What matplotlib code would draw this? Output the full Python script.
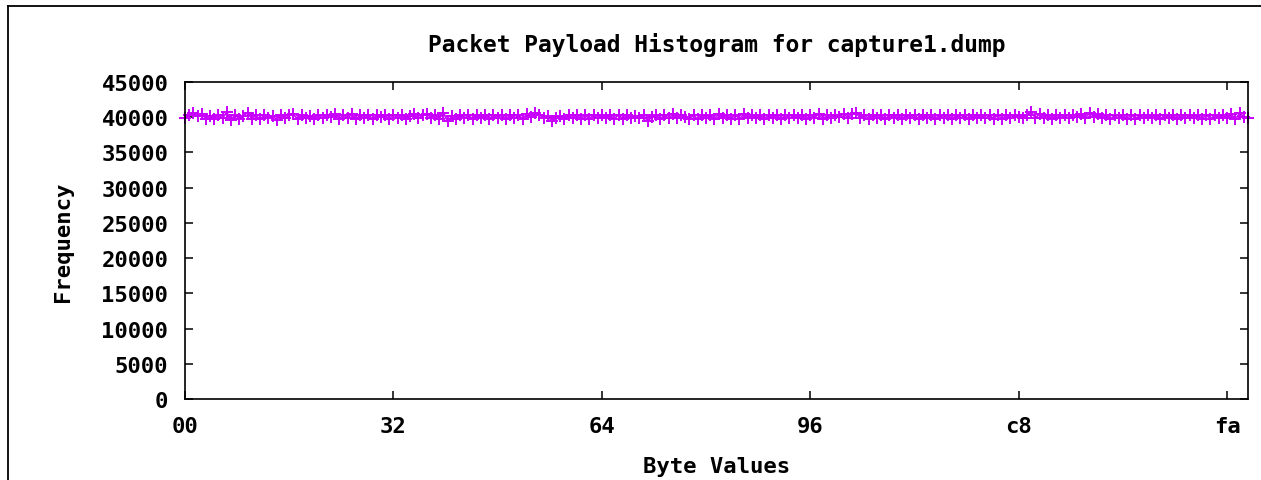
import matplotlib
matplotlib.use("Agg")
import matplotlib.pyplot as plt
from matplotlib.lines import Line2D

title = "Packet Payload Histogram for capture1.dump"
xlabel = "Byte Values"
ylabel = "Frequency"

xtick_pos = [0, 50, 100, 150, 200, 250]
xtick_lbl = ["00", "32", "64", "96", "c8", "fa"]
ytick_pos = [0, 5000, 10000, 15000, 20000, 25000, 30000, 35000, 40000, 45000]

freq = [
    39950, 40350, 40600, 40150, 40450, 39800, 40200, 39700, 40300, 39900, 40700, 39600, 40350, 39750, 40200, 40650,
    39800, 40250, 39700, 40300, 39900, 40200, 39650, 40350, 39850, 40250, 40400, 39750, 40300, 39900, 40200, 39700,
    40300, 39850, 40350, 40050, 40400, 39800, 40300, 39900, 40450, 39750, 40250, 39850, 40350, 39700, 40300, 40000,
    40250, 39800, 40350, 39900, 40300, 39750, 40200, 40450, 39850, 40300, 40500, 39900, 40350, 39800, 40650, 39400,
    40150, 39700, 40300, 39850, 40250, 39750, 40350, 39900, 40300, 39800, 40250, 39950, 40350, 39750, 40300, 39850,
    40250, 39800, 40400, 40100, 40650, 40350, 39900, 40200, 39450, 39900, 40150, 39750, 40300, 39850, 40350, 39800,
    40300, 39750, 40350, 39850, 40300, 39900, 40250, 39800, 40350, 39750, 40300, 39900, 40200, 39850, 40250, 39500,
    40050, 40350, 39750, 40300, 39850, 40400, 39900, 40250, 40100, 39800, 40250, 39700, 40350, 39850, 40300, 39750,
    40450, 39900, 40300, 39800, 40350, 39750, 40400, 39850, 40300, 39900, 40250, 39800, 40350, 39850, 40300, 39750,
    40300, 39850, 40250, 39900, 40350, 39800, 40300, 39950, 40450, 39700, 40250, 39850, 40350, 40050, 40500, 39950,
    40400, 40650, 39900, 40350, 39800, 40300, 39850, 40250, 39750, 40300, 39900, 40350, 39800, 40250, 39900, 40300,
    39750, 40350, 39850, 40250, 39800, 40300, 39900, 40350, 39750, 40300, 39850, 40250, 39800, 40350, 39900, 40300,
    39850, 40250, 39800, 40350, 39750, 40300, 39900, 40250, 40100, 39850, 40350, 40700, 39950, 40400, 39850, 40300,
    39800, 40350, 39900, 40250, 39850, 40300, 40050, 40450, 39900, 40650, 40100, 40400, 39850, 40300, 39750, 40250,
    39850, 40300, 39750, 40350, 39800, 40250, 39900, 40300, 39850, 40350, 39750, 40300, 39900, 40250, 39800, 40350,
    39850, 40300, 39900, 40250, 39800, 40350, 39750, 40300, 39900, 40250, 39850, 40400, 39700, 40600, 40050, 39950,
]
xvals = list(range(len(freq)))

W, H = 1261, 481
fig = plt.figure(figsize=(W / 100, H / 100), dpi=100)
fig.patch.set_facecolor("white")

font = dict(family="DejaVu Sans Mono", weight="bold", size=16)

# outer frame (left and top edges visible)
fig.add_artist(Line2D([7.5 / W, 7.5 / W], [-0.01, 1 - 6.5 / H], transform=fig.transFigure,
                      color="black", lw=1.3))
fig.add_artist(Line2D([7.5 / W, 1.01], [1 - 6.5 / H, 1 - 6.5 / H], transform=fig.transFigure,
                      color="black", lw=1.3))

left, right, bottom, top = 185, 1248, 400, 83
ax = fig.add_axes([left / W, (H - bottom) / H, (right - left) / W, (bottom - top) / H])

ax.plot(xvals, freq, color="#c800ff", lw=1.3, marker="+", markersize=8,
        markeredgewidth=1.4, clip_on=False)

ax.set_xlim(0, 255)
ax.set_ylim(0, 45000)
ax.set_xticks(xtick_pos)
ax.set_xticklabels(xtick_lbl)
ax.set_yticks(ytick_pos)
ax.set_yticklabels([str(v) for v in ytick_pos])

for s in ax.spines.values():
    s.set_linewidth(1.2)
ax.tick_params(direction="in", length=6, width=1.1, top=True, right=True)
ax.tick_params(axis="x", pad=12)
ax.tick_params(axis="y", pad=12)
for lbl in ax.get_xticklabels() + ax.get_yticklabels():
    lbl.set_fontfamily(font["family"])
    lbl.set_fontweight(font["weight"])
    lbl.set_fontsize(font["size"])

fig.text((left + right) / 2 / W, 1 - 52 / H, title, ha="center", va="baseline",
         family=font["family"], weight="bold", size=16.5)
fig.text((left + right) / 2 / W, 1 - 473 / H, xlabel, ha="center", va="baseline", **font)
fig.text(63 / W, 1 - 242 / H, ylabel, ha="center", va="center", rotation=90, **font)

fig.savefig("out.png", dpi=100)
